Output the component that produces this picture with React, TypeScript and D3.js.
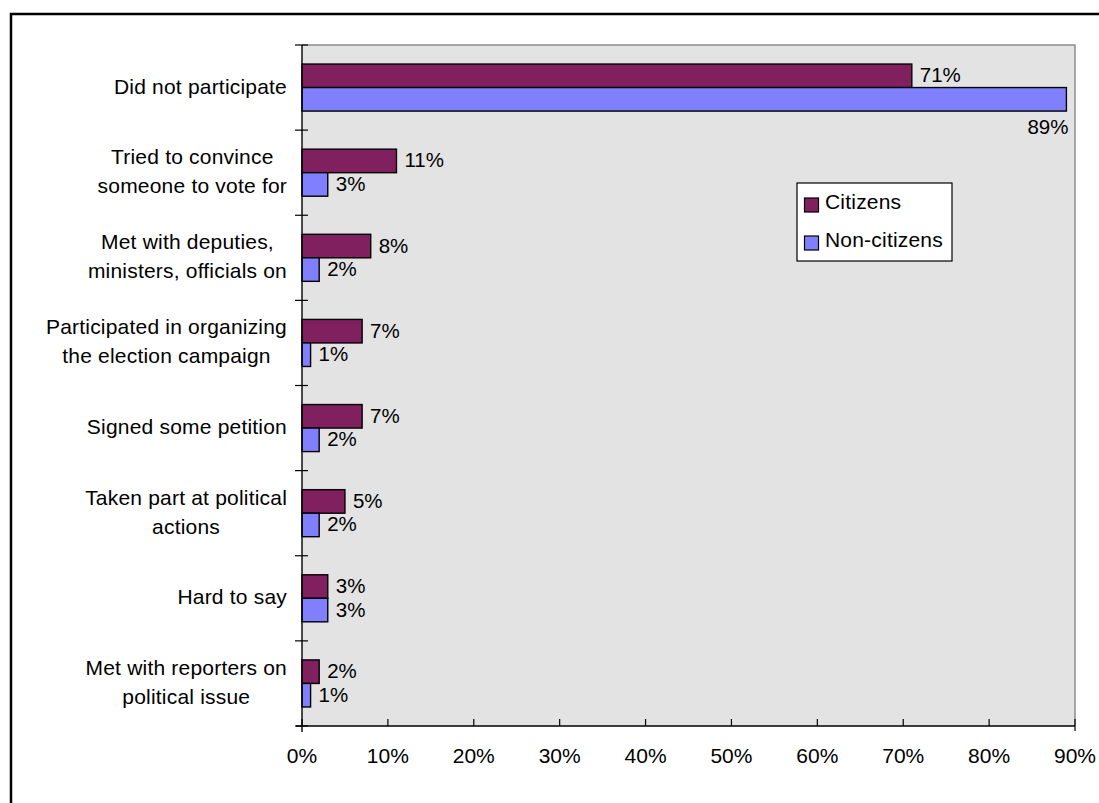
import { useEffect, useRef } from "react";
import * as d3 from "d3";

// categories, each as its wrapped lines
const CATEGORY_LINES: string[][] = [
  ["Did not participate"],
  ["Tried to convince", "someone to vote for"],
  ["Met with deputies,", "ministers, officials on"],
  ["Participated in organizing", "the election campaign"],
  ["Signed some petition"],
  ["Taken part at political", "actions"],
  ["Hard to say"],
  ["Met with reporters on", "political issue"],
];
const CATEGORIES = CATEGORY_LINES.map((l) => l.join(" "));

const SERIES = ["Citizens", "Non-citizens"];
const CITIZENS = [71, 11, 8, 7, 7, 5, 3, 2];
const NON_CITIZENS = [89, 3, 2, 1, 2, 2, 3, 1];
const X_TICKS = [0, 10, 20, 30, 40, 50, 60, 70, 80, 90];

const COLORS = ["#80205F", "#8080FF"];
const FONT = "Arial, 'Liberation Sans', sans-serif";

export default function App() {
  const ref = useRef<SVGSVGElement>(null);

  useEffect(() => {
    if (!ref.current) return;
    const svg = d3.select(ref.current);
    svg.selectAll("*").remove();

    const W = 1099;
    const H = 803;
    const m = { top: 45, right: 24, bottom: 77, left: 302 };
    const w = W - m.left - m.right;
    const h = H - m.top - m.bottom;

    svg.attr("width", W).attr("height", H).attr("font-family", FONT);

    // outer chart border (runs off the page on right and bottom)
    svg
      .append("rect")
      .attr("x", 11)
      .attr("y", 14)
      .attr("width", 1200)
      .attr("height", 1000)
      .attr("fill", "white")
      .attr("stroke", "black")
      .attr("stroke-width", 2.5);

    const g = svg
      .append("g")
      .attr("transform", `translate(${m.left},${m.top})`);

    const x = d3.scaleLinear().domain([0, 90]).range([0, w]);
    const y = d3.scaleBand<string>().domain(CATEGORIES).range([0, h]);
    const ys = d3
      .scaleBand<string>()
      .domain(SERIES)
      .range([0, y.bandwidth()])
      .paddingOuter(0.81);

    // plot area
    g.append("rect")
      .attr("width", w)
      .attr("height", h)
      .attr("fill", "#E3E3E3");
    g.append("path")
      .attr("d", `M0,0H${w}V${h}`)
      .attr("fill", "none")
      .attr("stroke", "#8C8C8C")
      .attr("stroke-width", 1.5);

    // bars
    const values = [CITIZENS, NON_CITIZENS];
    SERIES.forEach((s, si) => {
      CATEGORIES.forEach((c, ci) => {
        const v = values[si][ci];
        const by = (y(c) ?? 0) + (ys(s) ?? 0);
        g.append("rect")
          .attr("x", x(0))
          .attr("y", by)
          .attr("width", x(v) - x(0))
          .attr("height", ys.bandwidth())
          .attr("fill", COLORS[si])
          .attr("stroke", "black")
          .attr("stroke-width", 1.4);

        // value labels
        const lab = g
          .append("text")
          .attr("font-size", 20.5)
          .attr("fill", "black")
          .text(`${v}%`);
        if (x(v) + 50 > w) {
          lab
            .attr("x", x(v) + 2)
            .attr("y", by + ys.bandwidth() + 23)
            .attr("text-anchor", "end");
        } else {
          lab
            .attr("x", x(v) + 8)
            .attr("y", by + ys.bandwidth() / 2 + 6.5);
        }
      });
    });

    // y axis
    g.append("line")
      .attr("x1", 0)
      .attr("x2", 0)
      .attr("y1", 0)
      .attr("y2", h + 6)
      .attr("stroke", "black")
      .attr("stroke-width", 1.4);
    d3.range(CATEGORIES.length + 1).forEach((i) => {
      const ty = i * y.step();
      g.append("line")
        .attr("x1", -7)
        .attr("x2", 6)
        .attr("y1", ty)
        .attr("y2", ty)
        .attr("stroke", "black")
        .attr("stroke-width", 1.2);
    });

    // x axis
    g.append("line")
      .attr("x1", -6)
      .attr("x2", w)
      .attr("y1", h)
      .attr("y2", h)
      .attr("stroke", "black")
      .attr("stroke-width", 1.4);
    X_TICKS.forEach((t) => {
      g.append("line")
        .attr("x1", x(t))
        .attr("x2", x(t))
        .attr("y1", h - 7)
        .attr("y2", h + (t === 90 ? 5 : 0))
        .attr("stroke", "black")
        .attr("stroke-width", 1.2);
      g.append("text")
        .attr("x", x(t))
        .attr("y", h + 37)
        .attr("text-anchor", "middle")
        .attr("font-size", 21)
        .attr("fill", "black")
        .text(`${t}%`);
    });

    // category labels: lines centred on each other, block right-aligned
    CATEGORY_LINES.forEach((lines, ci) => {
      const cy = (y(CATEGORIES[ci]) ?? 0) + y.bandwidth() / 2;
      const grp = g.append("g");
      const texts = lines.map((ln, li) =>
        grp
          .append("text")
          .attr("y", cy + (li - (lines.length - 1) / 2) * 29 + 6)
          .attr("font-size", 21)
          .attr("letter-spacing", 0.2)
          .attr("fill", "black")
          .attr("text-anchor", "middle")
          .text(ln)
      );
      const maxW = d3.max(texts, (t) => t.node()!.getComputedTextLength()) ?? 0;
      texts.forEach((t) => t.attr("x", -15 - maxW / 2));
    });

    // legend
    const leg = svg.append("g").attr("transform", "translate(797,183)");
    leg
      .append("rect")
      .attr("width", 155)
      .attr("height", 78)
      .attr("fill", "white")
      .attr("stroke", "black")
      .attr("stroke-width", 1.2);
    SERIES.forEach((s, i) => {
      leg
        .append("rect")
        .attr("x", 7.5)
        .attr("y", 15 + i * 38)
        .attr("width", 14)
        .attr("height", 14)
        .attr("fill", COLORS[i])
        .attr("stroke", "black")
        .attr("stroke-width", 1.2);
      leg
        .append("text")
        .attr("x", 28)
        .attr("y", 26 + i * 38)
        .attr("font-size", 21)
        .attr("letter-spacing", 0.2)
        .attr("fill", "black")
        .text(s);
    });
  }, []);

  return (
    <svg
      ref={ref}
      style={{ position: "absolute", left: 0, top: 0, display: "block" }}
    />
  );
}
